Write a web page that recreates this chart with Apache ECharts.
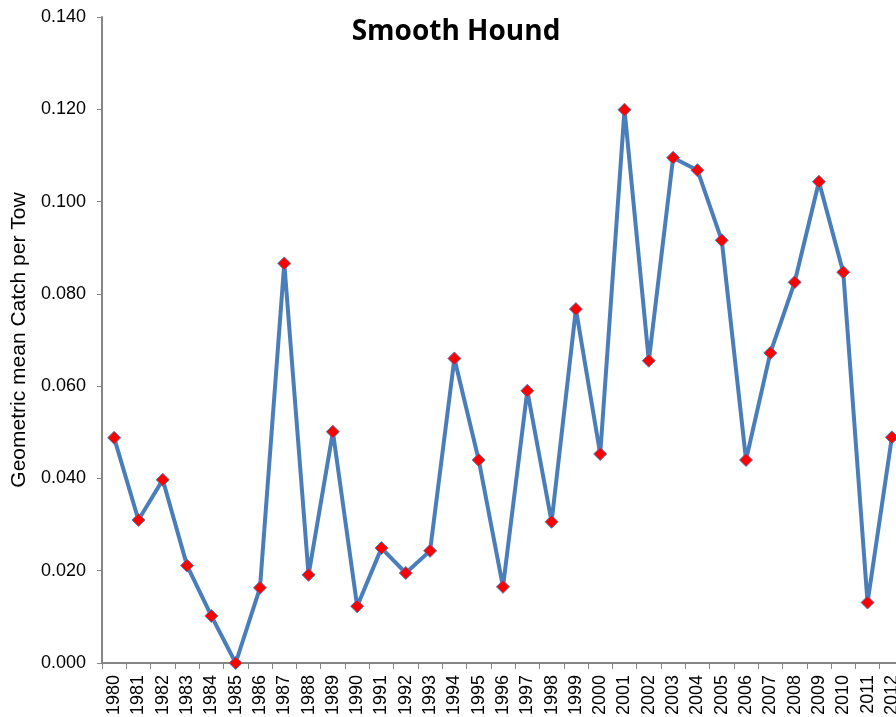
<!DOCTYPE html>
<html>
<head>
<meta charset="utf-8">
<script src="https://cdn.jsdelivr.net/npm/echarts@6/dist/echarts.min.js"></script>
<style>html,body{margin:0;padding:0;background:#fff}#c{width:896px;height:717px}</style>
</head>
<body>
<div id="c"></div>
<script>
const years = ['1980','1981','1982','1983','1984','1985','1986','1987','1988','1989','1990','1991','1992','1993','1994','1995','1996','1997','1998','1999','2000','2001','2002','2003','2004','2005','2006','2007','2008','2009','2010','2011','2012'];
const cpue = [0.0488,0.0310,0.0397,0.0211,0.0102,0.0000,0.0163,0.0866,0.0191,0.0501,0.0123,0.0249,0.0195,0.0243,0.0660,0.0440,0.0165,0.0590,0.0306,0.0767,0.0453,0.1199,0.0655,0.1095,0.1068,0.0916,0.0440,0.0672,0.0825,0.1043,0.0847,0.0131,0.0489];
const yTicks = {min: 0, max: 0.14, interval: 0.02};

const chart = echarts.init(document.getElementById('c'));
chart.setOption({
  animation: false,
  backgroundColor: '#ffffff',
  title: {
    text: 'Smooth Hound',
    left: 451, top: 13, textAlign: 'center',
    textStyle: {fontFamily: 'Open Sans', fontWeight: 'bold', fontSize: 28, color: '#000'}
  },
  grid: {left: 102, top: 17, width: 802, height: 646, containLabel: false, outerBoundsMode: 'none'},
  xAxis: {
    type: 'category',
    data: years,
    boundaryGap: true,
    axisLine: {lineStyle: {color: '#868686', width: 2}},
    axisTick: {show: true, length: 6, lineStyle: {color: '#868686', width: 1}},
    axisLabel: {rotate: 90, interval: 0, margin: 12, color: '#000', fontFamily: 'Liberation Sans', fontSize: 18}
  },
  yAxis: {
    type: 'value',
    min: yTicks.min, max: yTicks.max, interval: yTicks.interval,
    name: 'Geometric mean Catch per Tow',
    nameLocation: 'middle',
    nameGap: 72,
    nameTextStyle: {fontFamily: 'Liberation Sans', fontSize: 21, color: '#000'},
    splitLine: {show: false},
    axisLine: {show: true, lineStyle: {color: '#868686', width: 2}},
    axisTick: {show: true, length: 5, lineStyle: {color: '#868686', width: 1}},
    axisLabel: {color: '#000', fontFamily: 'Liberation Sans', fontSize: 18, margin: 16,
      formatter: v => v.toFixed(3)}
  },
  series: [{
    type: 'line',
    data: cpue,
    lineStyle: {color: '#4a7ebb', width: 4},
    symbol: 'diamond',
    symbolSize: 13,
    itemStyle: {color: '#ff0000', borderColor: '#4a7ebb', borderWidth: 1},
    z: 3
  }]
});
</script>
</body>
</html>
